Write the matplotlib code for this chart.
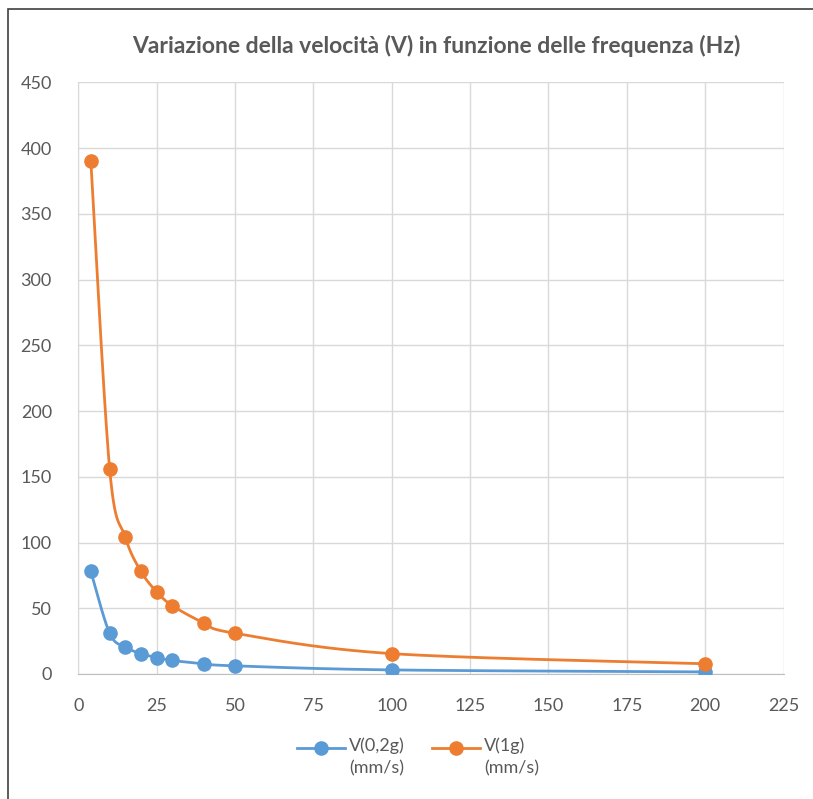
import numpy as np
import matplotlib
matplotlib.use("Agg")
import matplotlib.pyplot as plt
from matplotlib.patches import Rectangle
from matplotlib.lines import Line2D

freq = [4, 10, 15, 20, 25, 30, 40, 50, 100, 200]
v_02g = [78, 31, 20.5, 15.5, 12.5, 10.3, 7.8, 6.2, 3.1, 1.6]
v_1g = [390, 156, 104, 78, 62.5, 52, 39, 31, 15.5, 7.8]
series_names = ["V(0,2g)\n(mm/s)", "V(1g)\n(mm/s)"]
colors = ["#5B9BD5", "#ED7D31"]
title = "Variazione della velocità (V) in funzione delle frequenza (Hz)"
xticks = [0, 25, 50, 75, 100, 125, 150, 175, 200, 225]
yticks = [0, 50, 100, 150, 200, 250, 300, 350, 400, 450]

plt.rcParams['font.family'] = ['Lato', 'DejaVu Sans']


def smooth(x, y, n=30, t=0.5):
    """Catmull-Rom style smoothing between the given points (drawing only)."""
    x = np.asarray(x, float)
    y = np.asarray(y, float)
    P = np.column_stack([x, y])
    out = []
    for i in range(len(P) - 1):
        p0 = P[i - 1] if i > 0 else P[i]
        p1 = P[i]
        p2 = P[i + 1]
        p3 = P[i + 2] if i + 2 < len(P) else P[i + 1]
        c1 = p1 + (p2 - p0) * t / 3
        c2 = p2 - (p3 - p1) * t / 3
        s = np.linspace(0, 1, n)[:, None]
        b = ((1 - s) ** 3) * p1 + 3 * ((1 - s) ** 2) * s * c1 + 3 * (1 - s) * s ** 2 * c2 + s ** 3 * p2
        out.append(b if i == 0 else b[1:])
    B = np.vstack(out)
    return B[:, 0], B[:, 1]


W, H = 813, 799
L, R, T, B = 78.3, 783.5, 82.3, 674
fig = plt.figure(figsize=(W / 100, H / 100), dpi=100)
ax = fig.add_axes([L / W, 1 - B / H, (R - L) / W, (B - T) / H])

for vals, c in zip([v_02g, v_1g], colors):
    sx, sy = smooth(freq, vals)
    ax.plot(sx, sy, color=c, lw=2.0, zorder=3, solid_capstyle='round')
    ax.plot(freq, vals, 'o', color=c, ms=9.5, zorder=4)

ax.set_xlim(0, 225)
ax.set_ylim(0, 450)
ax.set_xticks(xticks)
ax.set_yticks(yticks)
ax.grid(True, color="#D9D9D9", lw=1.0)
ax.set_axisbelow(True)
for s in ['top', 'right']:
    ax.spines[s].set_visible(False)
ax.spines['left'].set_color("#D9D9D9")
ax.spines['bottom'].set_color("#BFBFBF")
ax.tick_params(axis='both', length=0, colors="#595959", labelsize=13)
ax.tick_params(axis='y', pad=19)
ax.tick_params(axis='x', pad=17)

fig.text(436 / W, 1 - 46 / H, title, ha='center', va='center',
         fontsize=16.5, fontweight='bold', color="#595959")

# legend drawn manually (handle aligned with first text line, as in the reference)
leg_x = [(297, 345, 349), (432, 480, 484)]
for (x0, x1, xt), name, c in zip(leg_x, series_names, colors):
    fig.lines.append(Line2D([x0 / W, x1 / W], [1 - 748 / H] * 2, transform=fig.transFigure,
                            color=c, lw=2.0))
    fig.lines.append(Line2D([(x0 + x1) / 2 / W], [1 - 748 / H], transform=fig.transFigure,
                            marker='o', color=c, ms=9.5))
    fig.text(xt / W, 1 - 737 / H, name, ha='left', va='top', fontsize=13,
             color="#595959", linespacing=1.55)

fig.patches.append(Rectangle((8 / W, -0.1), 1.2, (1 - 9 / H) + 0.1,
                             transform=fig.transFigure, fill=False,
                             edgecolor="#404040", lw=1.2))

fig.savefig("out.png", dpi=100)
